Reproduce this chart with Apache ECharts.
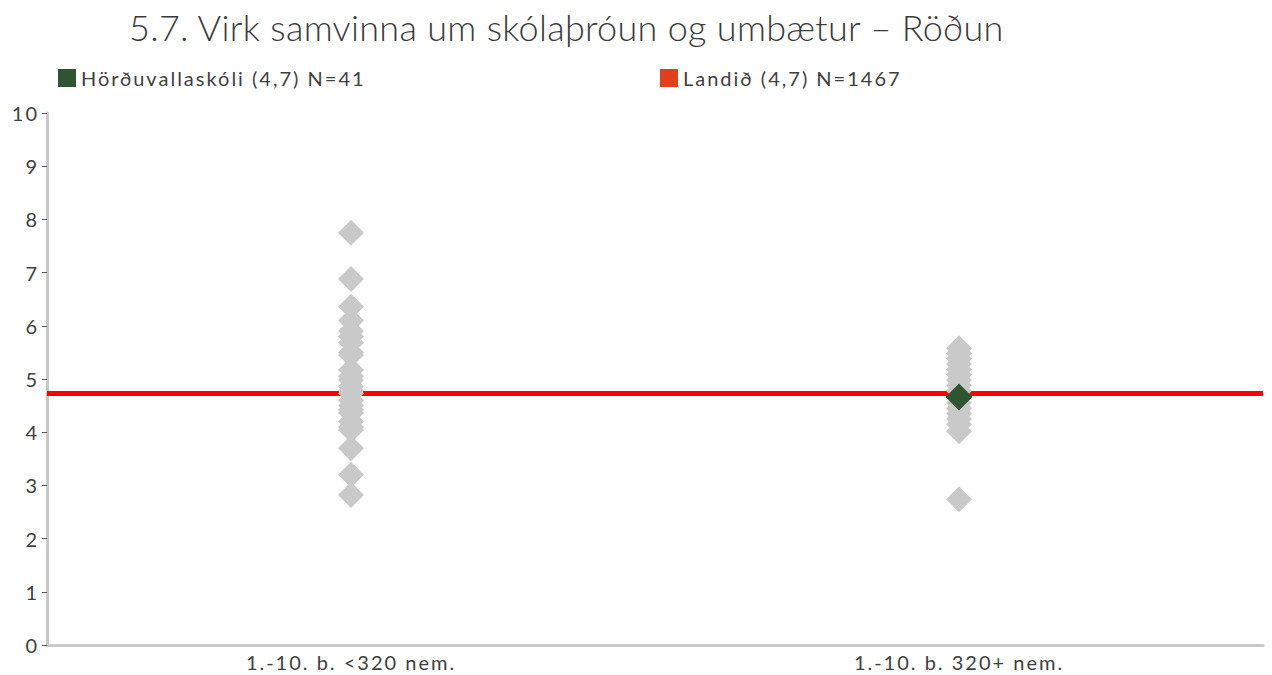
<!DOCTYPE html>
<html>
<head>
<meta charset="utf-8">
<script src="https://cdn.jsdelivr.net/npm/echarts@6/dist/echarts.min.js"></script>
<style>
  html, body { margin: 0; padding: 0; background: #fff; }
  #chart { width: 1272px; height: 675px; }
  #chart text { letter-spacing: 2px; }
  #chart text.title-text { letter-spacing: 0.3px; }
</style>
</head>
<body>
<div id="chart"></div>
<script>
// School-size groups on the x axis
const categories = ['1.-10. b. <320 nem.', '1.-10. b. 320+ nem.'];

// Scores of all schools in each group (grey diamonds)
const smallSchools = [7.75, 6.88, 6.36, 6.1, 5.9, 5.8, 5.68, 5.5, 5.45, 5.17, 5.05, 4.98,
                      4.86, 4.78, 4.73, 4.6, 4.5, 4.42, 4.36, 4.2, 4.1, 4.04, 3.7, 3.2, 2.82];
const largeSchools = [5.58, 5.48, 5.38, 5.28, 5.18, 5.08, 4.98, 4.88, 4.78, 4.66, 4.55,
                      4.45, 4.35, 4.25, 4.15, 4.02, 2.74];

// Highlighted school and the national average
const schoolName = 'Hörðuvallaskóli';
const schoolValue = 4.66;
const schoolN = 41;
const schoolCategory = 1;
const countryName = 'Landið';
const countryValue = 4.74;
const countryN = 1467;

const yTicks = { min: 0, max: 10, interval: 1 };

const titleText = '5.7. Virk samvinna um skólaþróun og umbætur – Röðun';

const fmt = v => v.toFixed(1).replace('.', ',');
const schoolLabel = `${schoolName} (${fmt(schoolValue)}) N=${schoolN}`;
const countryLabel = `${countryName} (${fmt(countryValue)}) N=${countryN}`;

const FONT = 'Lato, "Open Sans", sans-serif';
const TEXT = '#404040';

const chart = echarts.init(document.getElementById('chart'), null, { renderer: 'svg' });

const legendText = { fontFamily: FONT, fontSize: 20, color: TEXT };

chart.setOption({
  animation: false,
  backgroundColor: '#fff',
  title: {
    text: titleText,
    left: 124,
    top: 4,
    textStyle: { fontFamily: FONT, fontSize: 36, fontWeight: 300, color: '#3a3a3a' }
  },
  legend: [
    {
      data: [{ name: schoolLabel, itemStyle: { color: '#2f5431' } }],
      left: 53, top: 63, icon: 'rect', itemWidth: 18, itemHeight: 18, itemGap: 8,
      textStyle: legendText, selectedMode: false
    },
    {
      data: [{ name: countryLabel, itemStyle: { color: '#e2401b' } }],
      left: 655, top: 63, icon: 'rect', itemWidth: 18, itemHeight: 18, itemGap: 8,
      textStyle: legendText, selectedMode: false
    }
  ],
  grid: { left: 47, right: 9, top: 113, bottom: 30, containLabel: false },
  xAxis: {
    type: 'category',
    data: categories,
    boundaryGap: true,
    axisLine: { lineStyle: { color: '#c8c8c8', width: 3 } },
    axisTick: { show: false },
    axisLabel: { fontFamily: FONT, fontSize: 20, color: TEXT, margin: 7 },
    splitLine: { show: false }
  },
  yAxis: {
    type: 'value',
    min: yTicks.min, max: yTicks.max, interval: yTicks.interval,
    axisLine: { show: true, lineStyle: { color: '#c8c8c8', width: 3 } },
    axisTick: { show: true, length: 5, lineStyle: { color: '#595959', width: 1 } },
    axisLabel: { fontFamily: FONT, fontSize: 20, color: TEXT, margin: 8 },
    splitLine: { show: false }
  },
  series: [
    {
      name: countryLabel,
      type: 'line',
      data: [],
      itemStyle: { color: '#e2401b' },
      markLine: {
        silent: true,
        z: 1,
        symbol: 'none',
        label: { show: false },
        lineStyle: { color: '#ff0000', width: 5, type: 'solid', opacity: 1 },
        data: [{ yAxis: countryValue }]
      },
      z: 1
    },
    {
      name: 'all-small',
      type: 'scatter',
      symbol: 'diamond',
      symbolSize: 26,
      itemStyle: { color: '#c9c9c9', opacity: 1 },
      data: smallSchools.map(v => [0, v]),
      z: 3
    },
    {
      name: 'all-large',
      type: 'scatter',
      symbol: 'diamond',
      symbolSize: 26,
      itemStyle: { color: '#c9c9c9', opacity: 1 },
      data: largeSchools.map(v => [1, v]),
      z: 3
    },
    {
      name: schoolLabel,
      type: 'scatter',
      symbol: 'diamond',
      symbolSize: 27,
      itemStyle: { color: '#2f5431', opacity: 1 },
      data: [[schoolCategory, schoolValue]],
      z: 5
    }
  ]
});

// The heading gets tighter letter spacing than the axis and legend text
document.querySelectorAll('#chart text').forEach(t => {
  if (t.textContent === titleText) t.classList.add('title-text');
});
</script>
</body>
</html>
